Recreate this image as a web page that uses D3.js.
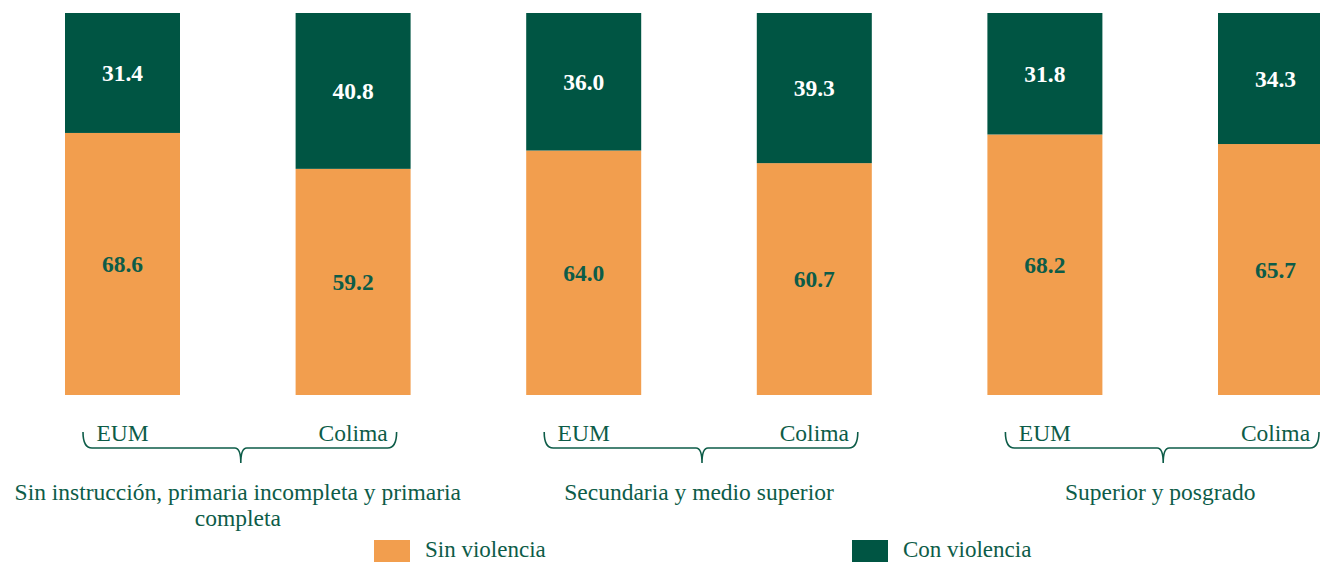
<!DOCTYPE html>
<meta charset="utf-8">
<script src="https://d3js.org/d3.v7.min.js"></script>
<style>
    body { margin: 0; background: #fff; }
    text { font-family: "Liberation Serif", "Times New Roman", serif; }
</style>
<div id="viz_area"></div>
<script>
    // datos
    var grupos = ["Sin instrucción, primaria incompleta y primaria completa", "Secundaria y medio superior", "Superior y posgrado"]
    var grupoLineas = [["Sin instrucción, primaria incompleta y primaria", "completa"], ["Secundaria y medio superior"], ["Superior y posgrado"]]
    var entidades = ["EUM", "Colima"]
    var sinViolencia = [68.6, 59.2, 64.0, 60.7, 68.2, 65.7]
    var conViolencia = [31.4, 40.8, 36.0, 39.3, 31.8, 34.3]
    var series = ["Sin violencia", "Con violencia"]

    var W = 1320, H = 562
    var naranja = "#f29e4e", verde = "#005543", textoVerde = "#0d5c48"
    var fs = "23.5px"

    var svg = d3.select("#viz_area").append("svg")
        .attr("width", W).attr("height", H)
        .style("display", "block")

    var keys = []
    grupos.forEach(function(g, gi) {
        entidades.forEach(function(e) { keys.push(gi + "-" + e) })
    })

    var x = d3.scaleBand()
        .domain(keys)
        .range([65, 1333])
        .paddingInner(0.5013)
        .paddingOuter(0)

    var y = d3.scaleLinear()
        .domain([0, 100])
        .range([395, 13])

    var rows = keys.map(function(k, i) {
        return { key: k, ent: entidades[i % 2], sin: sinViolencia[i], con: conViolencia[i] }
    })

    // barras sin violencia
    svg.selectAll(".bar-sin").data(rows).enter().append("rect")
        .attr("x", function(d) { return x(d.key) })
        .attr("y", function(d) { return y(d.sin) })
        .attr("width", x.bandwidth())
        .attr("height", function(d) { return y(0) - y(d.sin) })
        .attr("fill", naranja)

    // barras con violencia
    svg.selectAll(".bar-con").data(rows).enter().append("rect")
        .attr("x", function(d) { return x(d.key) })
        .attr("y", function(d) { return y(d.sin + d.con) })
        .attr("width", x.bandwidth())
        .attr("height", function(d) { return y(d.sin) - y(d.sin + d.con) })
        .attr("fill", verde)

    // etiquetas de valores
    svg.selectAll(".lab-sin").data(rows).enter().append("text")
        .attr("x", function(d) { return x(d.key) + x.bandwidth() / 2 })
        .attr("y", function(d) { return (y(0) + y(d.sin)) / 2 })
        .attr("dy", "0.35em")
        .attr("text-anchor", "middle")
        .attr("font-size", fs).attr("font-weight", "bold")
        .attr("fill", textoVerde)
        .text(function(d) { return d.sin.toFixed(1) })

    svg.selectAll(".lab-con").data(rows).enter().append("text")
        .attr("x", function(d) { return x(d.key) + x.bandwidth() / 2 })
        .attr("y", function(d) { return (y(d.sin) + y(d.sin + d.con)) / 2 })
        .attr("dy", "0.35em")
        .attr("text-anchor", "middle")
        .attr("font-size", fs).attr("font-weight", "bold")
        .attr("fill", "#fff")
        .text(function(d) { return d.con.toFixed(1) })

    // nombres de entidad
    svg.selectAll(".ent").data(rows).enter().append("text")
        .attr("x", function(d) { return x(d.key) + x.bandwidth() / 2 })
        .attr("y", 441)
        .attr("text-anchor", "middle")
        .attr("font-size", fs)
        .attr("fill", textoVerde)
        .text(function(d) { return d.ent })

    // llaves y nombres de grupo
    grupos.forEach(function(g, gi) {
        var x0 = x(gi + "-EUM") + 18
        var x1 = x(gi + "-Colima") + x.bandwidth() - 14
        var cx = (x(gi + "-EUM") + x(gi + "-Colima") + x.bandwidth()) / 2
        var tip = cx + 3
        var yl = 448, r = 9
        var p = "M" + x0 + ",432 Q" + x0 + "," + yl + " " + (x0 + r) + "," + yl +
            " L" + (tip - 6) + "," + yl +
            " Q" + tip + "," + yl + " " + tip + "," + (yl + 15) +
            " Q" + tip + "," + yl + " " + (tip + 6) + "," + yl +
            " L" + (x1 - r) + "," + yl +
            " Q" + x1 + "," + yl + " " + x1 + ",432"
        svg.append("path")
            .attr("d", p)
            .attr("fill", "none")
            .attr("stroke", textoVerde)
            .attr("stroke-width", 1.6)

        var t = svg.append("text")
            .attr("text-anchor", "middle")
            .attr("font-size", fs)
            .attr("fill", textoVerde)
        grupoLineas[gi].forEach(function(l, li) {
            t.append("tspan")
                .attr("x", cx)
                .attr("y", 500 + li * 26)
                .text(l)
        })
    })

    // leyenda
    var legX = [374, 852]
    var legend = svg.selectAll(".legend").data(series).enter().append("g")
        .attr("transform", function(d, i) { return "translate(" + legX[i] + ",540)" })
    legend.append("rect")
        .attr("width", 36).attr("height", 22)
        .attr("fill", function(d, i) { return i == 0 ? naranja : verde })
    legend.append("text")
        .attr("x", 51).attr("y", 17)
        .attr("font-size", "23px")
        .attr("fill", textoVerde)
        .text(function(d) { return d })
</script>
